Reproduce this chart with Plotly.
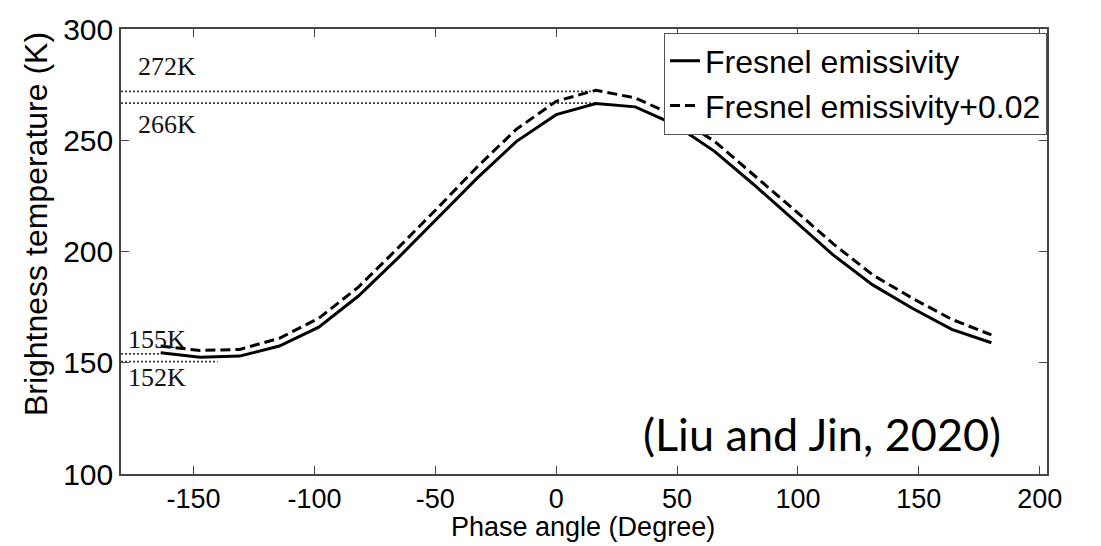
import plotly.graph_objects as go

# ---- data ----
phase_angle = [-163.6, -147.3, -130.9, -114.5, -98.2, -81.8, -65.5, -49.1, -32.7, -16.4, 0.0,
               16.4, 32.7, 49.1, 65.5, 81.8, 98.2, 114.5, 130.9, 147.3, 163.6, 180.0]
tb_fresnel = [154.5, 152.5, 153.0, 157.5, 166.0, 180.0, 197.0, 215.0, 233.0, 249.5, 261.5,
              266.5, 265.0, 257.0, 245.0, 230.0, 214.0, 198.5, 185.0, 174.5, 165.0, 159.0]
tb_fresnel_002 = [157.5, 155.5, 156.0, 161.0, 170.0, 184.0, 201.5, 219.5, 238.0, 255.0, 267.5,
                  272.5, 269.0, 261.0, 249.5, 234.5, 219.0, 203.5, 189.5, 179.0, 169.5, 162.5]
series_names = ["Fresnel emissivity", "Fresnel emissivity+0.02"]

ref_levels = [272.0, 266.7, 154.0, 150.5]
ref_x_end = [16.4, 16.4, -163.6, -140.0]
ref_labels = ["272K", "266K", "155K", "152K"]
ref_label_x = [-174.0, -174.0, -178.0, -178.0]
ref_label_y = [283.0, 257.0, 160.5, 143.3]

x_ticks = [-150, -100, -50, 0, 50, 100, 150, 200]
x_tick_text = ["-150", "-100", "-50", "0", "50", "100", "150", "200"]
y_ticks = [100, 150, 200, 250, 300]

SANS = "Liberation Sans, Arial, sans-serif"

fig = go.Figure()

# dotted reference lines
for lvl, xe in zip(ref_levels, ref_x_end):
    fig.add_trace(go.Scatter(x=[-180, xe], y=[lvl, lvl], mode="lines",
                             line=dict(color="#3a3a3a", width=1.8, dash="2px,2px"),
                             showlegend=False, hoverinfo="skip"))

fig.add_trace(go.Scatter(x=phase_angle, y=tb_fresnel, mode="lines", name=series_names[0],
                         line=dict(color="black", width=3)))
fig.add_trace(go.Scatter(x=phase_angle, y=tb_fresnel_002, mode="lines", name=series_names[1],
                         line=dict(color="black", width=3, dash="10px,5px")))

annotations = []
for lab, lx, ly in zip(ref_labels, ref_label_x, ref_label_y):
    annotations.append(dict(x=lx, y=ly, xref="x", yref="y",
                            text=lab, showarrow=False, xanchor="left", yanchor="middle",
                            font=dict(family="Liberation Serif, Times New Roman, serif", size=26,
                                      color="#111")))
annotations.append(dict(x=0.952, y=0.09, xref="paper", yref="paper", text="(Liu and Jin, 2020)",
                        showarrow=False, xanchor="right", yanchor="middle",
                        font=dict(family="Lato, Carlito, Calibri, sans-serif", size=45, color="black")))
annotations.append(dict(x=0.499, y=-0.119, xref="paper", yref="paper", text="Phase angle (Degree)",
                        showarrow=False, xanchor="center", yanchor="middle",
                        font=dict(family=SANS, size=27, color="black")))
annotations.append(dict(x=-0.091, y=0.561, xref="paper", yref="paper", text="Brightness temperature (K)",
                        showarrow=False, xanchor="center", yanchor="middle", textangle=-90,
                        font=dict(family=SANS, size=32, color="black")))

axis_common = dict(showline=True, linecolor="#444444", linewidth=1.5, mirror="ticks",
                   ticks="inside", ticklen=8, tickwidth=1.2, tickcolor="#444444",
                   showgrid=False, zeroline=False)

fig.update_layout(
    width=1101, height=546,
    margin=dict(l=121, r=54, t=21, b=72),
    paper_bgcolor="white", plot_bgcolor="white",
    xaxis=dict(range=[-180, 203], tickvals=x_ticks, ticktext=x_tick_text,
               tickfont=dict(family=SANS, size=27, color="black"), **axis_common),
    yaxis=dict(range=[100, 300], tickvals=y_ticks,
               tickfont=dict(family=SANS, size=30, color="black"), **axis_common),
    legend=dict(x=1.0, y=0.992, xanchor="right", yanchor="top",
                bgcolor="white", bordercolor="#555555", borderwidth=1,
                font=dict(family=SANS, size=32, color="black"),
                itemwidth=30, tracegroupgap=0),
    annotations=annotations,
    showlegend=True,
)

fig.write_html("out.html", config={"displayModeBar": False},
               post_script="document.body.style.margin='0';")
